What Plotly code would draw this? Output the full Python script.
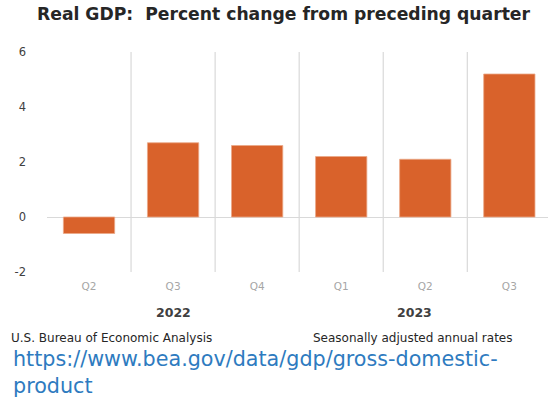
import plotly.graph_objects as go

quarters = ["Q2", "Q3", "Q4", "Q1", "Q2", "Q3"]
years = ["2022", "2022", "2022", "2023", "2023", "2023"]
gdp_change = [-0.6, 2.7, 2.6, 2.2, 2.1, 5.2]
y_ticks = [-2, 0, 2, 4, 6]
y_tick_text = ["-2", "0", "2", "4", "6"]
year_labels = ["2022", "2023"]
year_label_pos = [1.0, 3.87]

x_idx = list(range(len(quarters)))

fig = go.Figure()
fig.add_trace(go.Bar(
    x=x_idx, y=gdp_change, width=0.61,
    marker=dict(color="#D9622B", line=dict(color="#EBA888", width=0.8)),
))

# category separators
for k in range(len(quarters) - 1):
    fig.add_shape(type="line", x0=k + 0.5, x1=k + 0.5, y0=-2, y1=6,
                  xref="x", yref="y", line=dict(color="#D9D9D9", width=1.2), layer="below")

for lab, pos in zip(year_labels, year_label_pos):
    fig.add_annotation(x=pos, y=0, xref="x", yref="paper", yshift=-40, text="<b>" + lab + "</b>",
                       showarrow=False, font=dict(family="DejaVu Sans", size=12.5, color="#404040"),
                       yanchor="middle")

fig.add_annotation(x=0.5, y=1, xref="paper", yref="paper",
                   text="<b>Real GDP:  Percent change from preceding quarter</b>",
                   xanchor="center", yanchor="middle", yshift=38, xshift=-14, showarrow=False,
                   font=dict(family="DejaVu Sans", size=17.2, color="#262626"))

fig.update_layout(
    width=548, height=398,
    margin=dict(l=47, r=0, t=52, b=126),
    paper_bgcolor="white", plot_bgcolor="white",
    showlegend=False,
    xaxis=dict(range=[-0.5, 5.46], tickmode="array", tickvals=x_idx, ticktext=quarters,
               showgrid=False, zeroline=False, showline=False, ticks="",
               tickfont=dict(family="DejaVu Sans", size=10.5, color="#A6A6A6"),
               ticklabelstandoff=6),
    yaxis=dict(range=[-2, 6], tickmode="array", tickvals=y_ticks, ticktext=y_tick_text,
               showgrid=False, zeroline=True, zerolinecolor="#D9D9D9", zerolinewidth=1.2,
               showline=False, ticks="",
               tickfont=dict(family="DejaVu Sans", size=11.5, color="#404040"),
               ticklabelstandoff=20),
)

fig.add_annotation(x=0, y=0, xref="paper", yref="paper", xanchor="left", yanchor="middle",
                   xshift=-38, yshift=-66, showarrow=False,
                   text="U.S. Bureau of Economic Analysis",
                   font=dict(family="DejaVu Sans", size=12, color="#262626"))
fig.add_annotation(x=1, y=0, xref="paper", yref="paper", xanchor="right", yanchor="middle",
                   xshift=-34, yshift=-66, showarrow=False,
                   text="Seasonally adjusted annual rates",
                   font=dict(family="DejaVu Sans", size=12, color="#262626"))
fig.add_annotation(x=0, y=0, xref="paper", yref="paper", xanchor="left", yanchor="top",
                   xshift=-36, yshift=-73, showarrow=False, align="left",
                   text="https://www.bea.gov/data/gdp/gross-domestic-<br>product",
                   font=dict(family="DejaVu Sans", size=20.7, color="#2E7BC0"))

fig.write_html("out.html")
